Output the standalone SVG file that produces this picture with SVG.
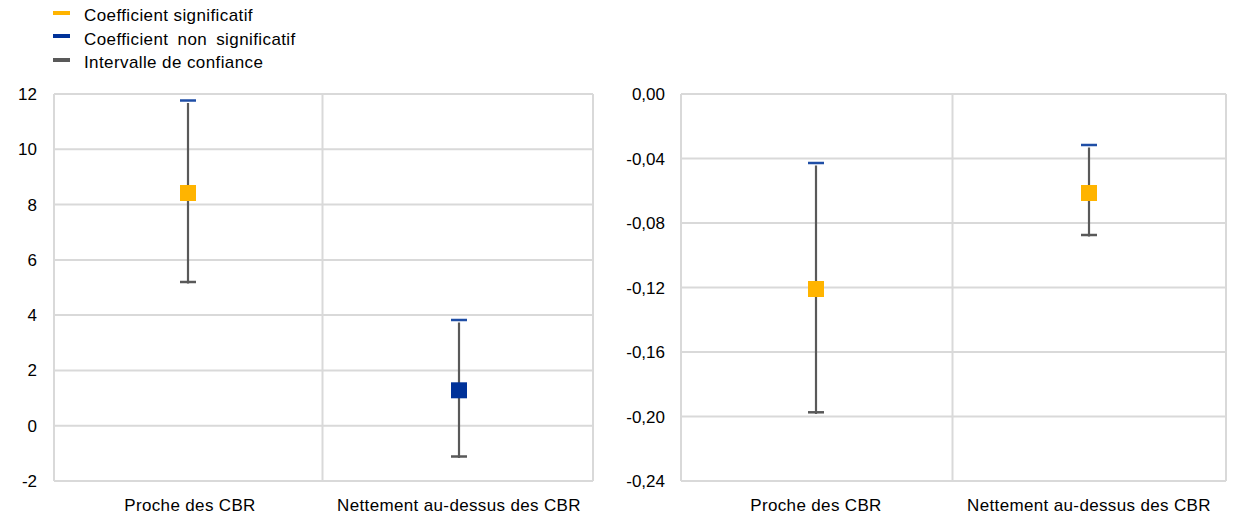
<svg xmlns="http://www.w3.org/2000/svg" width="1240" height="519" viewBox="0 0 1240 519">
<style>
text{font-family:"Liberation Sans",Arial,sans-serif;font-size:17px;fill:#000}
.leg{letter-spacing:0.4px}
.tick{text-anchor:end}
.cat{text-anchor:middle;letter-spacing:0.35px}
.grid{stroke:#d9d9d9;stroke-width:2;fill:none}
.bar{stroke:#595959;stroke-width:2.2;fill:none}
.capt{stroke:#1f4ea6;stroke-width:2.5}
.capb{stroke:#595959;stroke-width:2.5}
.sig{fill:#ffb400}
.nsig{fill:#003299}
</style>
<rect width="1240" height="519" fill="#fff"/>
<g id="legend">
<rect x="53" y="11" width="17" height="4" fill="#ffb400"/>
<text class="leg" x="84" y="21">Coefficient significatif</text>
<rect x="53" y="34" width="17" height="4" fill="#003299"/>
<text class="leg" x="84" y="44.5" word-spacing="4">Coefficient non significatif</text>
<rect x="53" y="58" width="17" height="4" fill="#595959"/>
<text class="leg" x="84" y="68">Intervalle de confiance</text>
</g>
<g id="left-axes">
<path class="grid" d="M54 94H593M54 149.3H593M54 204.6H593M54 259.9H593M54 315.1H593M54 370.4H593M54 425.7H593M54 481H593M54 94V481M322.5 94V481M593 94V481"/>
<text class="tick" x="37" y="100">12</text>
<text class="tick" x="37" y="155.3">10</text>
<text class="tick" x="37" y="210.6">8</text>
<text class="tick" x="37" y="265.9">6</text>
<text class="tick" x="37" y="321.1">4</text>
<text class="tick" x="37" y="376.4">2</text>
<text class="tick" x="37" y="431.7">0</text>
<text class="tick" x="37" y="487">-2</text>
<text class="cat" x="190" y="511">Proche des CBR</text>
<text class="cat" x="459" y="511">Nettement au-dessus des CBR</text>
</g>
<g id="right-axes">
<path class="grid" d="M681 94H1226M681 158.5H1226M681 223H1226M681 287.5H1226M681 352H1226M681 416.5H1226M681 481H1226M681 94V481M952.5 94V481M1226 94V481"/>
<text class="tick" x="665" y="100">0,00</text>
<text class="tick" x="665" y="164.5">-0,04</text>
<text class="tick" x="665" y="229">-0,08</text>
<text class="tick" x="665" y="293.5">-0,12</text>
<text class="tick" x="665" y="358">-0,16</text>
<text class="tick" x="665" y="422.5">-0,20</text>
<text class="tick" x="665" y="487">-0,24</text>
<text class="cat" x="816" y="511">Proche des CBR</text>
<text class="cat" x="1089" y="511">Nettement au-dessus des CBR</text>
</g>
<g id="connectors">
<path class="bar" d="M188 103V283.5"/>
<path class="bar" d="M459 322.5V458"/>
<path class="bar" d="M816 165.5V414"/>
<path class="bar" d="M1089 147.5V236.5"/>
</g>
<g id="left-near">
<path class="capt" d="M180 100.5H196"/>
<path class="capb" d="M180 282H196"/>
<rect class="sig" x="180" y="185" width="16" height="16"/>
</g>
<g id="left-above">
<path class="capt" d="M451 320H467"/>
<path class="capb" d="M451 456.5H467"/>
<rect class="nsig" x="451" y="382.3" width="16" height="16"/>
</g>
<g id="right-near">
<path class="capt" d="M808 163H824"/>
<path class="capb" d="M808 412.3H824"/>
<rect class="sig" x="808" y="281" width="16" height="16"/>
</g>
<g id="right-above">
<path class="capt" d="M1081 145H1097"/>
<path class="capb" d="M1081 235H1097"/>
<rect class="sig" x="1081" y="185" width="16" height="16"/>
</g>
</svg>
